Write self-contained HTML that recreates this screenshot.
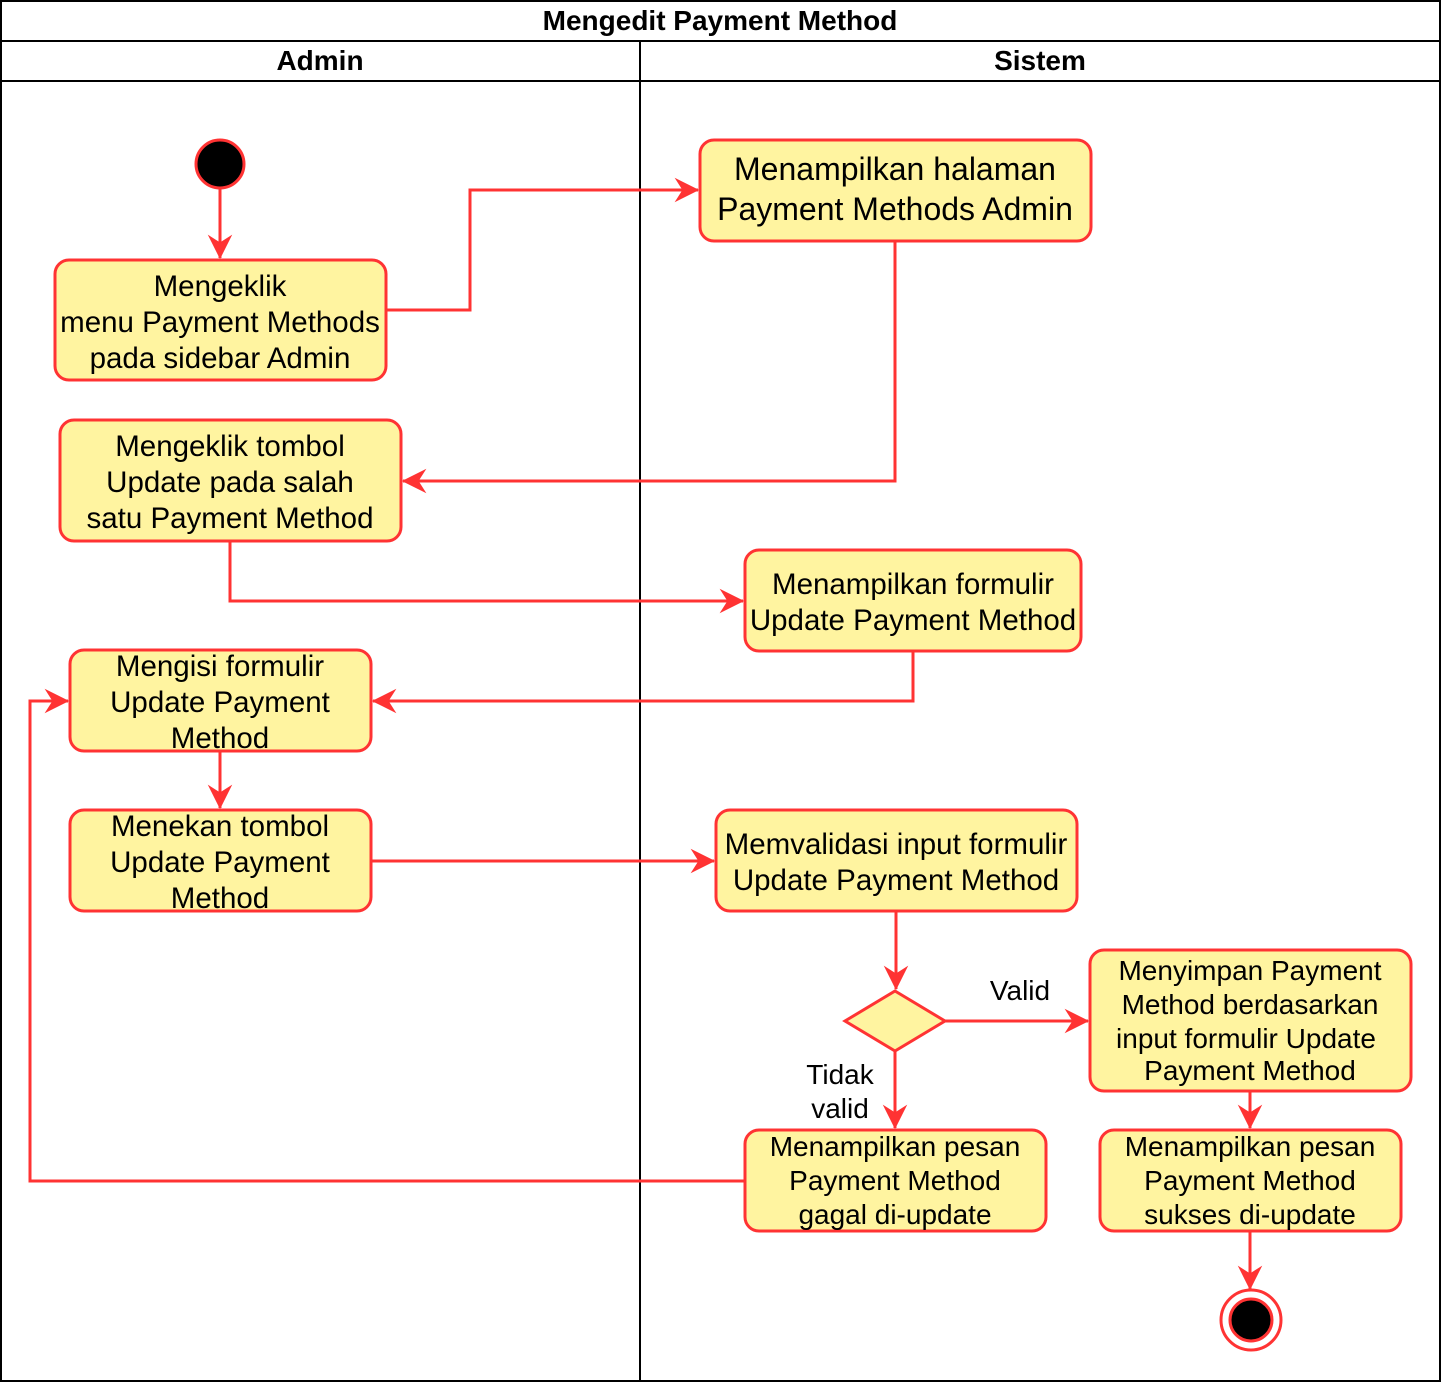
<!DOCTYPE html>
<html><head><meta charset="utf-8"><style>html,body{margin:0;padding:0;background:#fff}svg{display:block}</style></head>
<body>
<svg width="1442" height="1384" viewBox="0 0 1442 1384" xmlns="http://www.w3.org/2000/svg" font-family="Liberation Sans, Arial, sans-serif">
<defs>
<marker id="a" viewBox="-24 -12 26 24" refX="0" refY="0" markerWidth="26" markerHeight="24" markerUnits="userSpaceOnUse" orient="auto" style="overflow:visible">
<path d="M0,0 L-22,-11 L-15,0 L-22,11 Z" fill="#FF3333" stroke="#FF3333" stroke-width="1"/>
</marker>
</defs>
<rect x="1" y="1" width="1439" height="1380" fill="#fff" stroke="#000" stroke-width="2"/>
<line x1="1" y1="41" x2="1440" y2="41" stroke="#000" stroke-width="2"/>
<line x1="1" y1="81" x2="1440" y2="81" stroke="#000" stroke-width="2"/>
<line x1="640" y1="41" x2="640" y2="1381" stroke="#000" stroke-width="2"/>
<g font-weight="bold" font-size="28" text-anchor="middle">
<text x="720" y="30">Mengedit Payment Method</text>
<text x="320" y="70">Admin</text>
<text x="1040" y="70">Sistem</text>
</g>
<g fill="none" stroke="#FF3333" stroke-width="3">
<polyline points="220,188 220,258" marker-end="url(#a)"/>
<polyline points="386,310 470,310 470,190 698,190" marker-end="url(#a)"/>
<polyline points="895,241 895,481 403,481" marker-end="url(#a)"/>
<polyline points="230,541 230,601 743,601" marker-end="url(#a)"/>
<polyline points="913,651 913,701 373,701" marker-end="url(#a)"/>
<polyline points="220,751 220,808" marker-end="url(#a)"/>
<polyline points="371,861 714,861" marker-end="url(#a)"/>
<polyline points="896,911 896,989" marker-end="url(#a)"/>
<polyline points="945,1021 1088,1021" marker-end="url(#a)"/>
<polyline points="895,1051 895,1128" marker-end="url(#a)"/>
<polyline points="745,1181 30,1181 30,701 68,701" marker-end="url(#a)"/>
<polyline points="1250,1091 1250,1128" marker-end="url(#a)"/>
<polyline points="1250,1231 1250,1289" marker-end="url(#a)"/>
</g>
<circle cx="220" cy="164" r="24" fill="#000" stroke="#FF3333" stroke-width="3"/>
<circle cx="1251" cy="1320" r="30" fill="#fff" stroke="#FF3333" stroke-width="3"/>
<circle cx="1251" cy="1320" r="21" fill="#000" stroke="#FF3333" stroke-width="3"/>
<g fill="#FFF4A0" stroke="#FF3333" stroke-width="3">
<rect x="55" y="260" width="331" height="120" rx="14"/>
<rect x="700" y="140" width="391" height="101" rx="14"/>
<rect x="60" y="420" width="341" height="121" rx="14"/>
<rect x="745" y="550" width="336" height="101" rx="14"/>
<rect x="70" y="650" width="301" height="101" rx="14"/>
<rect x="70" y="810" width="301" height="101" rx="14"/>
<rect x="716" y="810" width="361" height="101" rx="14"/>
<rect x="1090" y="950" width="321" height="141" rx="14"/>
<rect x="745" y="1130" width="301" height="101" rx="14"/>
<rect x="1100" y="1130" width="301" height="101" rx="14"/>
<polygon points="895,991 945,1021 895,1051 845,1021"/>
</g>
<g font-size="29.5" text-anchor="middle" fill="#000">
<text x="220" y="296">Mengeklik</text>
<text x="220" y="332">menu Payment Methods</text>
<text x="220" y="368">pada sidebar Admin</text>
<text x="895" y="180" font-size="32">Menampilkan halaman</text>
<text x="895" y="220" font-size="32">Payment Methods Admin</text>
<text x="230" y="456">Mengeklik tombol</text>
<text x="230" y="492">Update pada salah</text>
<text x="230" y="528">satu Payment Method</text>
<text x="913" y="594">Menampilkan formulir</text>
<text x="913" y="630">Update Payment Method</text>
<text x="220" y="676">Mengisi formulir</text>
<text x="220" y="712">Update Payment</text>
<text x="220" y="748">Method</text>
<text x="220" y="836">Menekan tombol</text>
<text x="220" y="872">Update Payment</text>
<text x="220" y="908">Method</text>
<text x="896" y="854">Memvalidasi input formulir</text>
<text x="896" y="890">Update Payment Method</text>
</g>
<g font-size="28" text-anchor="middle" fill="#000">
<text x="1250" y="980">Menyimpan Payment</text>
<text x="1250" y="1014">Method berdasarkan</text>
<text x="1246" y="1048">input formulir Update</text>
<text x="1250" y="1080">Payment Method</text>
<text x="895" y="1156">Menampilkan pesan</text>
<text x="895" y="1190">Payment Method</text>
<text x="895" y="1224">gagal di-update</text>
<text x="1250" y="1156">Menampilkan pesan</text>
<text x="1250" y="1190">Payment Method</text>
<text x="1250" y="1224">sukses di-update</text>
<text x="1020" y="1000">Valid</text>
<text x="840" y="1084">Tidak</text>
<text x="840" y="1118">valid</text>
</g>
</svg>
</body></html>
